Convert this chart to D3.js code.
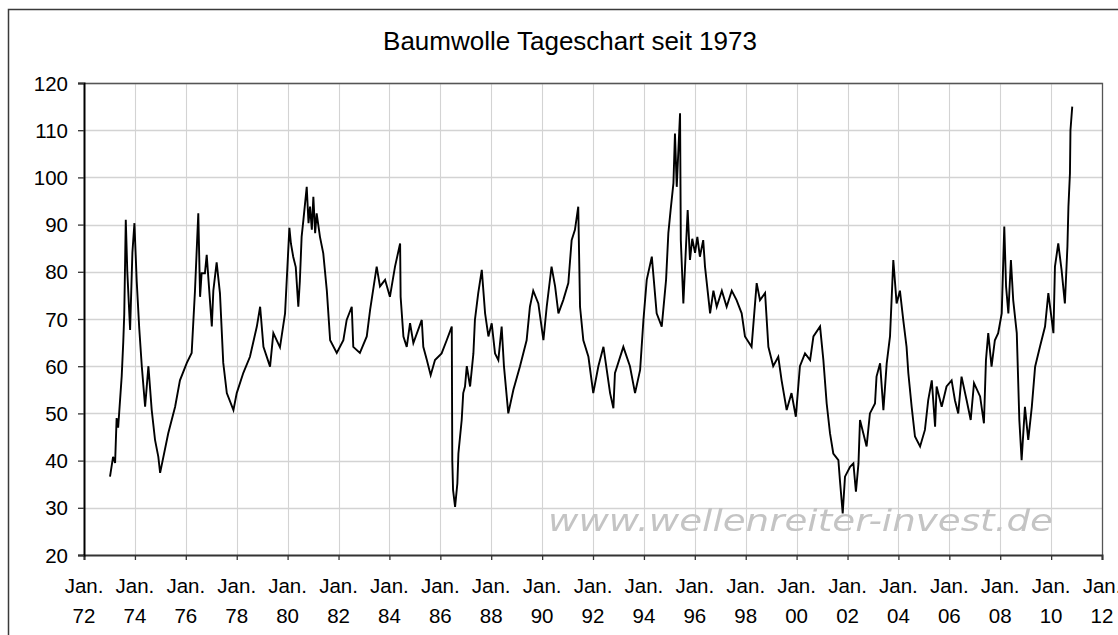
<!DOCTYPE html>
<html><head><meta charset="utf-8">
<script src="https://cdn.jsdelivr.net/npm/d3@7"></script>
<style>
html,body{margin:0;padding:0;background:#fff;}
svg{display:block;font-family:"Liberation Sans",Arial,sans-serif;}
</style></head>
<body>
<svg id="chart" width="1118" height="635"></svg>
<script>
// ---- data (decimal year, price in US cents/lb) ----
const years = [
1973.02,1973.14,1973.22,1973.28,1973.34,1973.48,1973.54,1973.58,1973.64,1973.70,1973.81,1973.90,1973.98,1974.07,
1974.17,1974.27,1974.40,1974.53,1974.66,1974.79,1974.92,1974.99,1975.31,1975.58,1975.77,1976.04,
1976.23,1976.36,1976.49,1976.56,1976.62,1976.75,1976.82,1977.02,1977.08,1977.21,1977.34,1977.47,
1977.61,1977.87,1978.00,1978.26,1978.52,1978.79,1978.92,1979.05,1979.31,1979.44,1979.70,1979.90,
1980.07,1980.13,1980.22,1980.32,1980.42,1980.48,1980.55,1980.62,1980.75,1980.82,1980.88,1980.95,1981.01,1981.08,1981.14,1981.27,1981.40,1981.54,1981.67,
1981.93,1982.19,1982.32,1982.52,1982.58,1982.84,1983.11,1983.24,1983.50,1983.63,1983.83,1984.02,
1984.22,1984.42,1984.44,1984.55,1984.68,1984.81,1984.94,1985.27,1985.33,1985.47,1985.62,1985.79,
1986.05,1986.25,1986.45,1986.47,1986.50,1986.58,1986.67,1986.71,1986.84,1986.90,1986.97,1987.04,
1987.17,1987.30,1987.36,1987.49,1987.63,1987.76,1987.89,1988.02,1988.15,1988.28,1988.41,1988.50,
1988.67,1988.87,1989.13,1989.39,1989.52,1989.65,1989.85,1990.05,1990.18,1990.37,1990.51,1990.64,
1990.83,1991.03,1991.16,1991.29,1991.42,1991.49,1991.62,1991.82,1992.01,1992.21,1992.41,1992.67,
1992.80,1992.86,1993.19,1993.45,1993.65,1993.85,1993.98,1994.11,1994.31,1994.50,1994.70,1994.87,
1994.96,1995.05,1995.16,1995.22,1995.29,1995.42,1995.45,1995.55,1995.72,1995.81,1995.90,1996.01,1996.10,1996.20,
1996.33,1996.40,1996.60,1996.73,1996.86,1997.06,1997.25,1997.45,1997.64,1997.84,1997.97,1998.23,
1998.43,1998.56,1998.76,1998.89,1999.08,1999.28,1999.41,1999.61,1999.80,1999.97,2000.13,2000.33,
2000.53,2000.66,2000.92,2001.05,2001.18,2001.31,2001.44,2001.64,2001.70,2001.81,2001.90,2002.10,
2002.23,2002.33,2002.43,2002.49,2002.62,2002.75,2002.88,2003.08,2003.14,2003.28,2003.41,2003.54,
2003.67,2003.80,2003.93,2004.06,2004.19,2004.32,2004.39,2004.52,2004.65,2004.85,2005.04,2005.17,
2005.31,2005.44,2005.50,2005.70,2005.89,2006.09,2006.22,2006.35,2006.48,2006.68,2006.84,2006.97,
2007.21,2007.36,2007.44,2007.53,2007.66,2007.79,2007.92,2008.06,2008.16,2008.23,2008.32,2008.42,
2008.51,2008.65,2008.75,2008.84,2008.97,2009.10,2009.24,2009.37,2009.56,2009.76,2009.89,2010.09,
2010.15,2010.28,2010.41,2010.54,2010.64,2010.68,2010.74,2010.76,2010.83
];
const prices = [
36.6,40.8,39.5,49.0,47.0,57.9,65.0,71.0,91.0,80.0,67.7,84.0,90.3,78.0,
68.0,60.0,51.4,60.0,50.7,44.4,40.8,37.4,45.8,51.4,57.0,60.7,
62.8,76.0,92.4,74.7,79.7,79.7,83.6,68.4,76.0,82.0,75.5,60.7,
54.3,50.7,54.3,58.6,62.0,68.4,72.6,64.1,59.9,67.0,64.0,71.2,
89.3,86.0,83.2,81.0,72.6,78.0,87.4,91.0,98.0,90.3,93.8,88.9,95.9,88.2,92.4,87.4,83.9,76.0,65.5,
62.8,65.5,69.8,72.6,64.1,62.8,66.3,71.9,81.1,76.9,78.3,74.7,
81.1,86.0,74.7,66.3,64.1,69.1,64.9,69.8,64.1,61.3,58.1,61.3,
62.7,65.5,68.4,40.0,33.8,30.2,35.2,41.5,48.6,54.3,55.7,60.0,
55.7,62.7,69.8,75.5,80.4,71.2,66.3,69.1,62.7,61.3,68.4,60.0,
50.0,55.0,60.0,65.5,72.6,76.0,73.3,65.5,72.6,81.1,76.9,71.2,
74.0,77.6,86.7,88.9,93.8,72.6,65.5,62.0,54.3,60.0,64.1,54.3,
51.1,58.5,64.1,60.0,54.3,59.2,69.8,78.3,83.2,71.2,68.4,78.3,
88.2,93.1,98.8,109.3,98.0,113.6,86.7,73.3,93.1,82.5,87.0,84.0,87.4,83.2,
86.7,81.1,71.2,76.0,72.6,76.0,72.6,76.0,74.0,71.2,66.3,64.1,
77.6,74.0,75.5,64.1,60.0,62.0,57.0,50.7,54.3,49.3,60.0,62.7,
61.3,66.3,68.4,61.3,52.1,45.8,41.5,40.1,35.9,28.8,36.6,38.7,
39.4,33.4,39.4,48.6,45.8,43.0,50.0,52.1,57.8,60.6,50.7,60.6,
66.3,82.5,73.3,76.0,69.8,64.1,58.5,51.4,45.1,43.0,46.5,52.8,
57.0,47.2,55.7,51.4,55.7,57.0,52.8,50.0,57.8,52.8,48.6,56.4,
53.6,47.9,61.3,67.0,59.9,65.5,67.0,71.2,89.6,76.9,71.2,82.5,
74.0,67.0,48.6,40.1,51.4,44.4,51.4,59.9,64.1,68.4,75.5,67.0,
81.1,86.0,80.4,73.3,85.3,93.8,100.9,110.0,115.0
];
const yTicks = [20,30,40,50,60,70,80,90,100,110,120];
const xTickYears = [1972,1974,1976,1978,1980,1982,1984,1986,1988,1990,1992,1994,1996,1998,2000,2002,2004,2006,2008,2010,2012];
const titleText = "Baumwolle Tageschart seit 1973";
const watermark = "www.wellenreiter-invest.de";

// ---- helpers ----
function decToDate(y){
  const yr = Math.floor(y);
  const start = Date.UTC(yr,0,1), end = Date.UTC(yr+1,0,1);
  return new Date(start + (y-yr)*(end-start));
}
const data = years.map((y,i)=>({d:decToDate(y), v:prices[i]}));

const svg = d3.select("#chart");
const W = 1118, H = 635;
const m = {left:84, top:83, right:1102, bottom:555};

const x = d3.scaleUtc().domain([new Date(Date.UTC(1972,0,1)), new Date(Date.UTC(2012,0,1))]).range([m.left, m.right]);
const y = d3.scaleLinear().domain([20,120]).range([m.bottom, m.top]);

svg.append("rect").attr("width",W).attr("height",H).attr("fill","#fff");
// outer chart border
svg.append("rect").attr("x",8.5).attr("y",9.5).attr("width",W+20).attr("height",H+20)
  .attr("fill","none").attr("stroke","#3a3a3a").attr("stroke-width",1.5);

// title
svg.append("text").attr("x",570).attr("y",50).attr("text-anchor","middle")
  .attr("font-size",26).attr("fill","#000").text(titleText);

// grid
const g = svg.append("g");
g.selectAll("line.hg").data(yTicks.slice(1)).join("line")
  .attr("x1",m.left).attr("x2",m.right).attr("y1",d=>Math.round(y(d))+0.5).attr("y2",d=>Math.round(y(d))+0.5)
  .attr("stroke","#d3d3d3").attr("stroke-width",1.3);
g.selectAll("line.vg").data(xTickYears.slice(1,-1)).join("line")
  .attr("x1",d=>Math.round(x(new Date(Date.UTC(d,0,1))))+0.5).attr("x2",d=>Math.round(x(new Date(Date.UTC(d,0,1))))+0.5)
  .attr("y1",m.top).attr("y2",m.bottom)
  .attr("stroke","#d3d3d3").attr("stroke-width",1.1);

// watermark
const defs = svg.append("defs");
defs.append("filter").attr("id","blur").append("feGaussianBlur").attr("stdDeviation",0.7);
svg.append("text").attr("x",548).attr("y",531).attr("font-family","'DejaVu Sans',Verdana,sans-serif")
  .attr("font-style","italic").attr("font-size",31).attr("fill","#c4c4c4")
  .attr("textLength",505).attr("lengthAdjust","spacingAndGlyphs")
  .attr("filter","url(#blur)").text(watermark);

// plot border top/right
svg.append("path").attr("d",`M${m.left},${m.top+0.5}H${m.right+0.5}V${m.bottom}`)
  .attr("fill","none").attr("stroke","#555").attr("stroke-width",1.3);

// price line
const line = d3.line().x(d=>x(d.d)).y(d=>y(d.v)).curve(d3.curveLinear);
svg.append("path").datum(data).attr("d",line)
  .attr("fill","none").attr("stroke","#000").attr("stroke-width",1.9).attr("stroke-linejoin","miter");

// x axis
const xAxis = d3.axisBottom(x).tickValues(xTickYears.map(d=>new Date(Date.UTC(d,0,1))))
  .tickSize(5).tickFormat("");
const xg = svg.append("g").attr("transform",`translate(0,${m.bottom})`).call(xAxis);
xg.select(".domain").attr("stroke","#333").attr("stroke-width",2);
xg.selectAll(".tick line").attr("stroke","#333").attr("stroke-width",1.3);
const xl = svg.append("g").attr("font-size",20.5).attr("fill","#000").attr("text-anchor","middle");
xTickYears.forEach(yr=>{
  const px = x(new Date(Date.UTC(yr,0,1)));
  xl.append("text").attr("x",px).attr("y",593).text("Jan.");
  xl.append("text").attr("x",px).attr("y",623).text(String(yr%100).padStart(2,"0"));
});

// y axis
const yAxis = d3.axisLeft(y).tickValues(yTicks).tickSize(6).tickFormat(d3.format("d"));
const yg = svg.append("g").attr("transform",`translate(${m.left},0)`).call(yAxis);
yg.select(".domain").attr("stroke","#000").attr("stroke-width",2);
yg.selectAll(".tick line").attr("stroke","#333").attr("stroke-width",1.3);
yg.selectAll(".tick text").attr("font-size",20.5).attr("font-family","'Liberation Sans',Arial,sans-serif")
  .attr("fill","#000").attr("x",-16).attr("dy","0.35em");
</script>
</body></html>
